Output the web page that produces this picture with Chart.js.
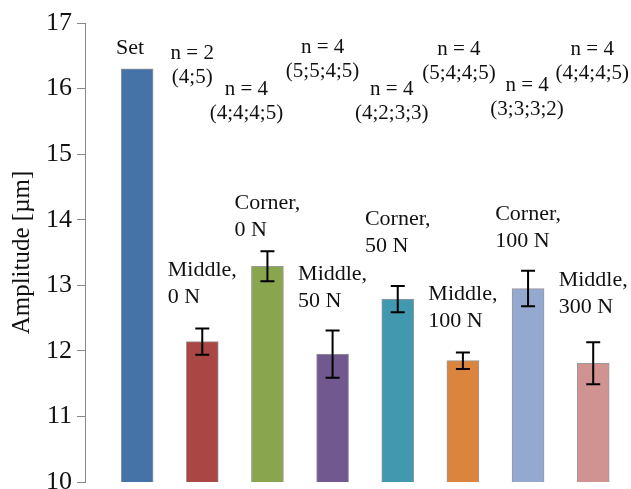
<!DOCTYPE html>
<html>
<head>
<meta charset="utf-8">
<script src="https://cdn.jsdelivr.net/npm/chart.js@4"></script>
<style>
  body { margin: 0; background: #fff; }
</style>
</head>
<body>
<canvas id="myChart" width="631" height="489"></canvas>
<script>
// data
const categories = [['Set'], ['Middle,', '0 N'], ['Corner,', '0 N'], ['Middle,', '50 N'],
    ['Corner,', '50 N'], ['Middle,', '100 N'], ['Corner,', '100 N'], ['Middle,', '300 N']];
const amplitude = [16.3, 12.14, 13.29, 11.95, 12.79, 11.85, 12.95, 11.81];
const errors = [0, 0.2, 0.23, 0.36, 0.2, 0.125, 0.27, 0.32];
const counts = [null, ['n = 2', '(4;5)'], ['n = 4', '(4;4;4;5)'], ['n = 4', '(5;5;4;5)'],
    ['n = 4', '(4;2;3;3)'], ['n = 4', '(5;4;4;5)'], ['n = 4', '(3;3;3;2)'], ['n = 4', '(4;4;4;5)']];
const yTicks = [10, 11, 12, 13, 14, 15, 16, 17];

const colors = ['#4572A7', '#AA4643', '#89A54E', '#71588F', '#4198AF', '#DB843D', '#93A9CF', '#D19392'];

// where the text sits (value units on y, pixel shift on x)
const labelY = [16.62, 13.23, 14.25, 13.17, 14.01, 12.87, 14.09, 13.07];
const labelDx = [-7, 0, 0, 0, 0, 0, 0, 0];
const countY = [null, 16.54, 15.99, 16.63, 15.99, 16.59, 16.04, 16.59];
const countDx = [0, -10, -21, -10, -6, -4, -1, -1];

const serif = '"Liberation Serif", "Times New Roman", serif';

const errorBars = {
    id: 'errorBars',
    afterDatasetsDraw(chart) {
        const ctx = chart.ctx;
        const y = chart.scales.y;
        const meta = chart.getDatasetMeta(0);
        ctx.save();
        ctx.strokeStyle = '#000';
        ctx.lineWidth = 2;
        meta.data.forEach((bar, i) => {
            if (!errors[i]) return;
            const top = y.getPixelForValue(amplitude[i] + errors[i]);
            const bot = y.getPixelForValue(amplitude[i] - errors[i]);
            ctx.beginPath();
            ctx.moveTo(bar.x, top); ctx.lineTo(bar.x, bot);
            ctx.moveTo(bar.x - 7, top); ctx.lineTo(bar.x + 7, top);
            ctx.moveTo(bar.x - 7, bot); ctx.lineTo(bar.x + 7, bot);
            ctx.stroke();
        });

        ctx.fillStyle = '#111';
        ctx.textBaseline = 'middle';
        meta.data.forEach((bar, i) => {
            // category label, block centred on the bar, lines left aligned
            ctx.font = '22px ' + serif;
            const lines = categories[i];
            const w = Math.max(...lines.map(l => ctx.measureText(l).width));
            const left = bar.x - w / 2 + labelDx[i];
            const y0 = y.getPixelForValue(labelY[i]);
            ctx.textAlign = 'left';
            lines.forEach((l, k) => ctx.fillText(l, left, y0 + k * 27));

            if (counts[i]) {
                ctx.font = '21px ' + serif;
                ctx.textAlign = 'center';
                const cy = y.getPixelForValue(countY[i]);
                counts[i].forEach((l, k) => ctx.fillText(l, bar.x + countDx[i], cy + k * 24));
            }
        });
        ctx.restore();
    }
};

const ctx = document.getElementById('myChart').getContext('2d');
const myChart = new Chart(ctx, {
    type: 'bar',
    data: {
        datasets: [{
            label: 'Amplitude',
            data: amplitude.map((v, i) => ({ x: i, y: v })),
            backgroundColor: colors,
            borderColor: '#999',
            borderWidth: 1,
            barThickness: 32
        }]
    },
    options: {
        responsive: false,
        animation: false,
        layout: { padding: { top: 23, bottom: 7, left: 0, right: 0 } },
        plugins: {
            legend: { display: false },
            tooltip: { enabled: false }
        },
        scales: {
            x: {
                type: 'linear',
                display: false,
                offset: false,
                min: -0.8,
                max: 7.58
            },
            y: {
                min: 10,
                max: 17,
                afterBuildTicks: (scale) => { scale.ticks = yTicks.map(v => ({ value: v })); },
                afterFit: (scale) => {
                    scale.width = 85;
                    scale.paddingTop = 0;
                    scale.paddingBottom = 0;
                },
                ticks: {
                    font: { family: serif, size: 26 },
                    color: '#111',
                    padding: 5
                },
                grid: {
                    drawOnChartArea: false,
                    drawTicks: true,
                    tickLength: 8,
                    color: '#888'
                },
                border: { display: true, color: '#888', width: 1 },
                title: {
                    display: true,
                    text: 'Amplitude [µm]',
                    font: { family: serif, size: 25 },
                    color: '#111',
                    padding: { top: 7, bottom: 0 }
                }
            }
        }
    },
    plugins: [errorBars]
});
</script>
</body>
</html>
